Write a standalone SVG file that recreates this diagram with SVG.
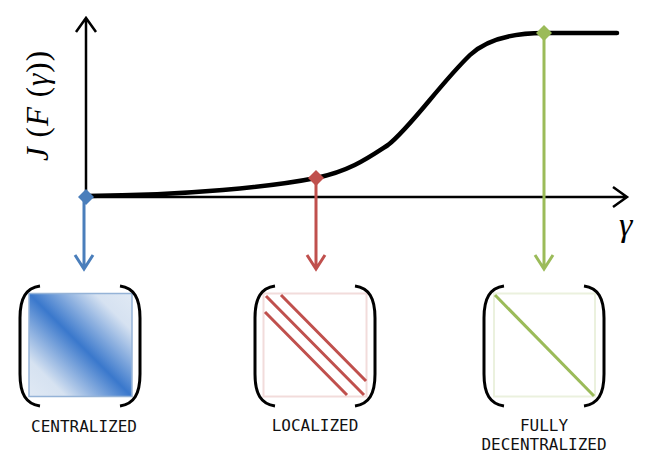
<svg xmlns="http://www.w3.org/2000/svg" width="658" height="472" viewBox="0 0 658 472">
<style>
.axis{stroke:#000;stroke-width:2.5;fill:none}
.curve{stroke:#000;stroke-width:4.5;fill:none;stroke-linecap:round}
.br{stroke:#000;stroke-width:3;fill:none}
.lbl{font-family:"DejaVu Sans Mono","Liberation Mono",monospace;font-size:16px;fill:#111;text-anchor:middle}
.math{font-family:"Liberation Serif","DejaVu Serif",serif;fill:#000}
.blue{stroke:#4a7ebb;stroke-width:3;fill:none}
.red{stroke:#c0504d;stroke-width:3;fill:none}
.green{stroke:#9bbb59;stroke-width:3;fill:none}
</style>
<defs>
<linearGradient id="g" x1="0" y1="1" x2="1" y2="0">
<stop offset="0" stop-color="#e0e9f4"/>
<stop offset="0.18" stop-color="#d6e2f1"/>
<stop offset="0.5" stop-color="#3a78cc"/>
<stop offset="0.82" stop-color="#d6e2f1"/>
<stop offset="1" stop-color="#e0e9f4"/>
</linearGradient>
<g id="brk">
<path class="br" d="M21,286 C7,288 1,298 1,318 L1,374 C1,394 7,404 21,406"/>
<path class="br" d="M101,286 C115,288 121,298 121,318 L121,374 C121,394 115,404 101,406"/>
</g>
</defs>

<g id="axes">
<path class="axis" d="M86,197 L86,19 M76,32 L86,18 L96,32"/>
<path class="axis" d="M86,197 L626,197 M613,187 L627,197 L613,207"/>
<text class="math" font-size="34" font-style="italic" x="619" y="236">γ</text>
<text class="math" font-size="31" transform="translate(48,106) rotate(-90)" text-anchor="middle" textLength="110" lengthAdjust="spacing"><tspan font-style="italic">J</tspan> (<tspan font-style="italic">F</tspan> (<tspan font-style="italic">γ</tspan>))</text>
</g>

<g id="curve">
<path class="curve" d="M86,196 C190,195 270,187 316,178 C350,171 368,158 388,145 C410,128 440,84 470,55 C484,42 505,33 544,33 L617,33"/>
</g>

<g id="connectors">
<path class="blue" d="M84,197 L84,268 M75,255 L84,269 L93,255"/>
<path class="red" d="M316,178 L316,268 M307,255 L316,269 L325,255"/>
<path class="green" d="M544,33 L544,268 M535,255 L544,269 L553,255"/>
<path fill="#4a7ebb" d="M86,189 L94,197 L86,205 L78,197 Z"/>
<path fill="#c0504d" d="M316,170 L324,178 L316,186 L308,178 Z"/>
<path fill="#9bbb59" d="M544,25 L552,33 L544,41 L536,33 Z"/>
</g>

<g id="centralized" transform="translate(19,0)">
<rect x="10" y="293.5" width="103" height="103" fill="url(#g)" stroke="#95b3d7" stroke-width="1.5"/>
<use href="#brk"/>
<text class="lbl" x="65" y="432">CENTRALIZED</text>
</g>

<g id="localized" transform="translate(254,0)">
<rect x="9.5" y="293.5" width="103" height="103" fill="#fff" stroke="#f2dcdb" stroke-width="2"/>
<path class="red" stroke-width="2.5" d="M12,296 L110,395 M27,295 L112,381 M11,312 L93,395"/>
<use href="#brk"/>
<text class="lbl" x="61" y="431">LOCALIZED</text>
</g>

<g id="fully_decentralized" transform="translate(483,0)">
<rect x="11" y="293.5" width="101" height="103" fill="#fff" stroke="#ebf1de" stroke-width="2"/>
<path class="green" stroke-width="2.5" d="M12,295 L111,396"/>
<use href="#brk"/>
<text class="lbl" x="61" y="431">FULLY</text>
<text class="lbl" x="61" y="450">DECENTRALIZED</text>
</g>
</svg>
